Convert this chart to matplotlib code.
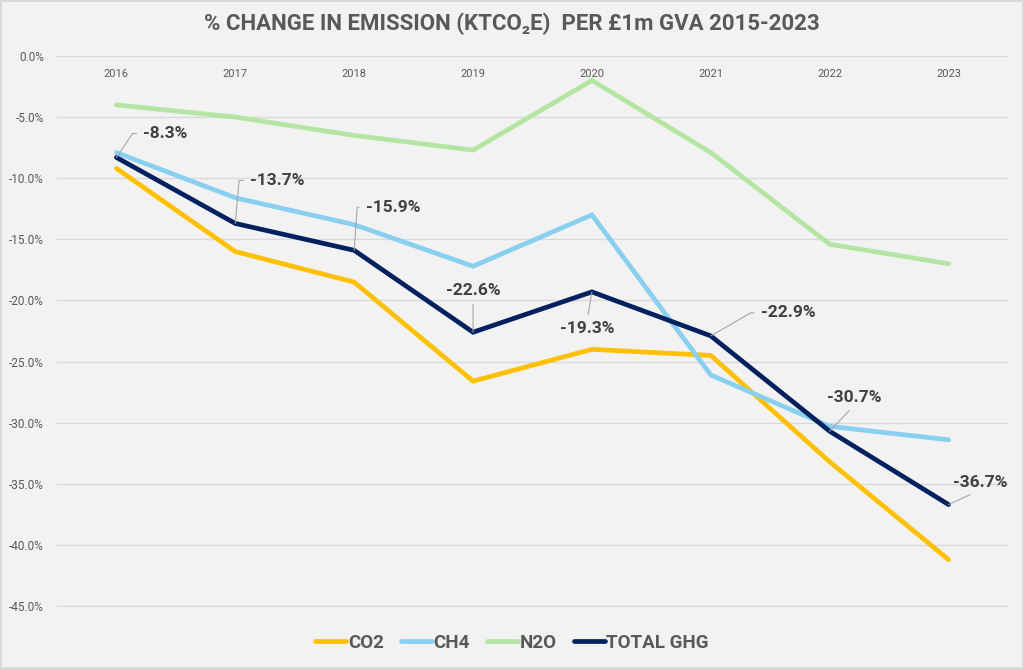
import matplotlib
matplotlib.use("Agg")
import matplotlib.pyplot as plt
from matplotlib.ticker import FuncFormatter, MultipleLocator

years = ["2016", "2017", "2018", "2019", "2020", "2021", "2022", "2023"]
co2 = [-9.2, -16.0, -18.5, -26.6, -24.0, -24.5, -33.2, -41.2]
ch4 = [-7.9, -11.6, -13.8, -17.2, -13.0, -26.1, -30.3, -31.4]
n2o = [-4.0, -5.0, -6.5, -7.7, -2.0, -7.9, -15.4, -17.0]
total = [-8.3, -13.7, -15.9, -22.6, -19.3, -22.9, -30.7, -36.7]
series_names = ["CO2", "CH4", "N2O", "TOTAL GHG"]
colors = ["#FFC000", "#89CFEF", "#B4E5A2", "#002060"]

NARROW = ["Roboto", "DejaVu Sans"]
REG = ["Roboto", "DejaVu Sans"]

fig = plt.figure(figsize=(10.24, 6.69), dpi=100, facecolor="#F2F2F2",
                 edgecolor="#D9D9D9", linewidth=1.5)
ax = fig.add_axes([57/1024, 1-607/669, (1008-57)/1024, (607-56)/669])
ax.set_facecolor("#F2F2F2")

x = list(range(len(years)))
for vals, name, c in zip([co2, ch4, n2o, total], series_names, colors):
    ax.plot(x, vals, color=c, lw=3.4, label=name, solid_capstyle="round",
            solid_joinstyle="miter")

ax.set_xlim(-0.5, len(years) - 0.5)
ax.set_ylim(-45.08, 0)
ax.yaxis.set_major_locator(MultipleLocator(5))
ax.yaxis.set_major_formatter(FuncFormatter(lambda v, p: f"{v:.1f}%"))
ax.grid(axis="y", color="#D9D9D9", lw=1)
ax.set_axisbelow(True)
for s in ax.spines.values():
    s.set_visible(False)

ax.set_xticks(x)
ax.set_xticklabels(years)
ax.tick_params(axis="x", bottom=False, labelbottom=False, top=False,
               labeltop=True, pad=-20, labelsize=8, labelcolor="#595959")
ax.tick_params(axis="y", left=False, pad=6, labelsize=8.5, labelcolor="#595959")
for lab in ax.get_xticklabels() + ax.get_yticklabels():
    lab.set_family(REG)

# data labels for TOTAL GHG: (dx, dy) offset pixels, ha, va, relpos, connectionstyle
label_style = [
    (27, 24, "left", "center", (0, 0.5), "angle,angleA=0,angleB=56,rad=0"),
    (15, 43, "left", "center", (0, 0.5), "angle,angleA=0,angleB=85,rad=0"),
    (12, 43, "left", "center", (0, 0.5), "angle,angleA=0,angleB=86,rad=0"),
    (0, 42, "center", "center", (0.5, 0), "arc3"),
    (-5, -37, "center", "center", (0.5, 1), "arc3"),
    (50, 23, "left", "center", (0, 0.5), "angle,angleA=0,angleB=30,rad=0"),
    (25, 34, "center", "center", (0.5, 0), "arc3"),
    (4, 22, "left", "center", (0.5, 0), "arc3"),
]
for i, (v, st) in enumerate(zip(total, label_style)):
    dx, dy, ha, va, rp, cs = st
    ax.annotate(f"{v:.1f}%", xy=(i, v), xytext=(dx, dy), textcoords="offset pixels",
                ha=ha, va=va, fontsize=12.5, fontweight="bold", color="#404040",
                family=NARROW,
                arrowprops=dict(arrowstyle="-", color="#A6A6A6", lw=0.8,
                                shrinkA=3, shrinkB=0, relpos=rp,
                                connectionstyle=cs))

fig.text(0.5, 1-24/669, "% CHANGE IN EMISSION (KTCO\u2082E)  PER \u00a31m GVA 2015-2023",
         ha="center", va="center", fontsize=16, fontweight="bold",
         color="#595959", family=NARROW)

leg = fig.legend(loc="center", bbox_to_anchor=(0.5, 1-643/669), ncol=4,
                 frameon=False, handlelength=1.65, handletextpad=0.1,
                 columnspacing=0.9, prop={"family": NARROW, "weight": "bold",
                                          "size": 13.5})
for t in leg.get_texts():
    t.set_color("#595959")

fig.savefig("out.png", dpi=100, facecolor=fig.get_facecolor(),
            edgecolor=fig.get_edgecolor())
